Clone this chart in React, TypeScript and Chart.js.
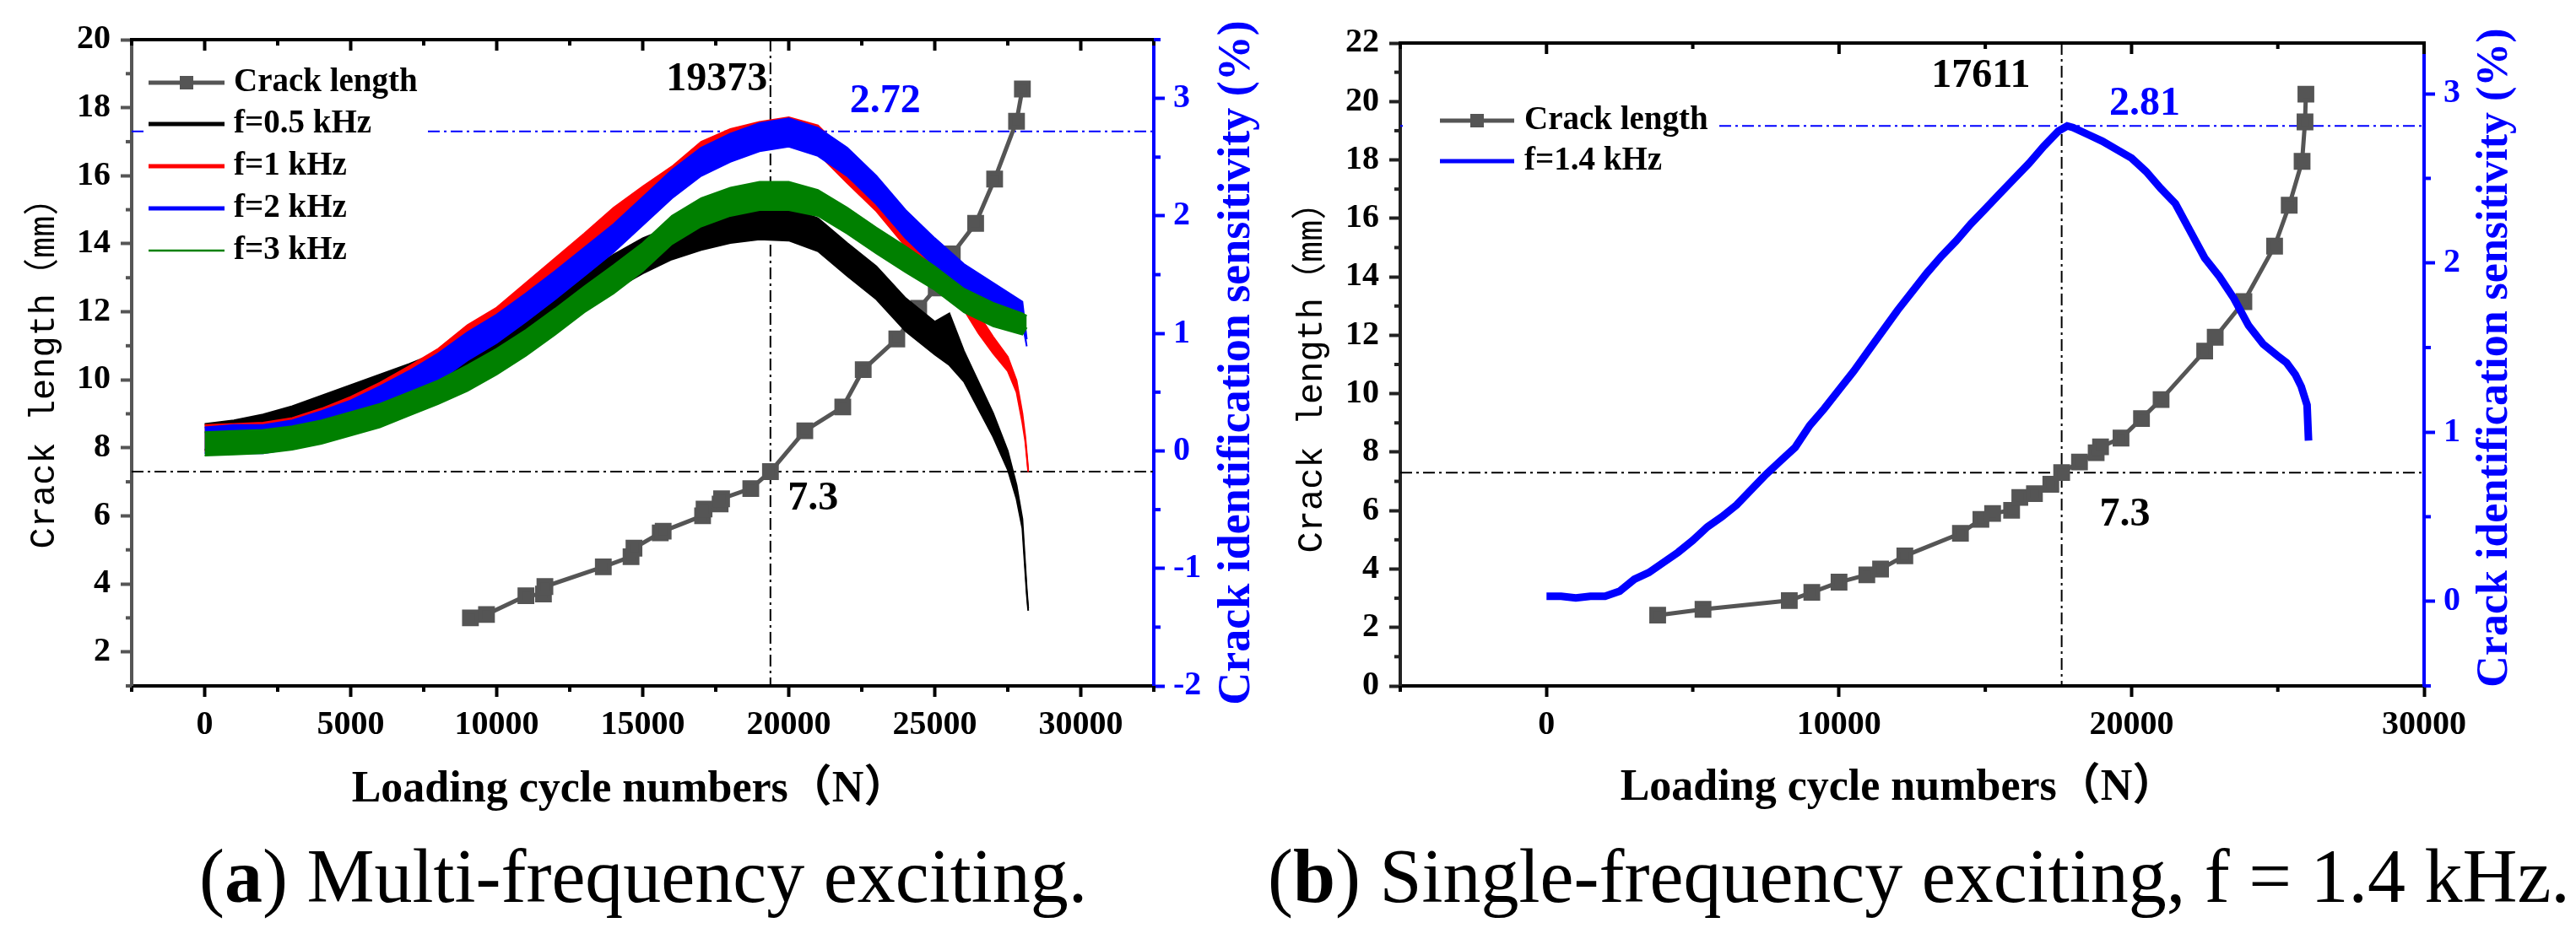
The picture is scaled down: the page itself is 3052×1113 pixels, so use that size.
import { useEffect, useRef } from "react";
import { Chart, registerables } from "chart.js";
import type { ChartConfiguration, Plugin } from "chart.js";

Chart.register(...registerables);

const SERIF = '"Liberation Serif", "Noto Sans CJK SC", serif';
const MONO = '"Liberation Mono", "Noto Sans CJK SC", monospace';
const BLUE = "#0000ff";
const GRAY = "#555555";

// ---------- (a) multi-frequency exciting ----------
const CRACK_A_CYCLES = [9100, 9650, 11000, 11600, 11650, 13650, 14600, 14700, 15600, 15700, 17050, 17100, 17650, 17700, 18700, 19373, 20550, 21850, 22550, 23700, 24450, 25050, 25600, 26400, 27050, 27800, 28000];
const CRACK_A_LENGTH = [3.0, 3.1, 3.65, 3.7, 3.92, 4.5, 4.8, 5.05, 5.5, 5.55, 6.0, 6.2, 6.35, 6.5, 6.8, 7.3, 8.5, 9.2, 10.3, 11.2, 12.1, 12.7, 13.7, 14.6, 15.9, 17.6, 18.55];

// sensitivity traces: centre of the noisy trace and half height of its noise band (%)
const F05_CYCLES = [0, 1000, 2000, 3000, 4000, 5000, 6000, 7000, 8000, 9000, 10000, 11000, 12000, 13000, 14000, 15000, 16000, 17000, 18000, 19000, 20000, 21000, 22000, 23000, 24000, 25000, 25500, 26000, 27000, 27500, 27800, 28000, 28150, 28200];
const F05_MID = [0.12, 0.14, 0.19, 0.25, 0.34, 0.42, 0.51, 0.6, 0.7, 0.8, 0.88, 1.0, 1.2, 1.36, 1.52, 1.66, 1.77, 1.85, 1.91, 1.94, 1.93, 1.84, 1.63, 1.43, 1.16, 0.96, 0.95, 0.72, 0.22, -0.08, -0.35, -0.62, -1.2, -1.35];
const F05_NOISE = [0.11, 0.12, 0.12, 0.13, 0.13, 0.14, 0.14, 0.14, 0.14, 0.14, 0.14, 0.15, 0.15, 0.15, 0.15, 0.15, 0.14, 0.14, 0.14, 0.14, 0.14, 0.14, 0.14, 0.14, 0.14, 0.14, 0.22, 0.13, 0.1, 0.08, 0.06, 0.04, 0.02, 0.01];

const F1_CYCLES = [0, 1000, 2000, 3000, 4000, 5000, 6000, 7000, 8000, 9000, 10000, 11000, 12000, 13000, 14000, 15000, 16000, 17000, 18000, 19000, 20000, 21000, 22000, 23000, 24000, 25000, 26000, 26500, 27000, 27500, 27800, 28000, 28100, 28200];
const F1_MID = [0.11, 0.11, 0.12, 0.16, 0.24, 0.33, 0.46, 0.6, 0.75, 0.94, 1.1, 1.31, 1.52, 1.73, 1.94, 2.12, 2.29, 2.5, 2.62, 2.68, 2.72, 2.65, 2.4, 2.15, 1.85, 1.56, 1.3, 1.08, 0.9, 0.74, 0.55, 0.28, 0.1, -0.17];
const F1_NOISE = [0.11, 0.12, 0.12, 0.12, 0.12, 0.13, 0.12, 0.12, 0.12, 0.13, 0.12, 0.12, 0.12, 0.12, 0.13, 0.13, 0.13, 0.13, 0.12, 0.12, 0.12, 0.12, 0.12, 0.11, 0.11, 0.11, 0.1, 0.08, 0.07, 0.06, 0.05, 0.04, 0.02, 0.01];

const F2_CYCLES = [0, 1000, 2000, 3000, 4000, 5000, 6000, 7000, 8000, 9000, 10000, 11000, 12000, 13000, 14000, 15000, 16000, 17000, 18000, 19000, 20000, 21000, 22000, 23000, 24000, 25000, 26000, 27000, 28000, 28150];
const F2_MID = [0.09, 0.1, 0.1, 0.14, 0.22, 0.31, 0.43, 0.56, 0.71, 0.89, 1.04, 1.22, 1.41, 1.61, 1.81, 2.04, 2.27, 2.46, 2.58, 2.67, 2.71, 2.63, 2.46, 2.22, 1.93, 1.69, 1.48, 1.33, 1.18, 0.92];
const F2_NOISE = [0.11, 0.12, 0.12, 0.12, 0.12, 0.12, 0.12, 0.12, 0.12, 0.12, 0.12, 0.12, 0.12, 0.12, 0.12, 0.12, 0.12, 0.12, 0.12, 0.12, 0.12, 0.12, 0.12, 0.12, 0.12, 0.12, 0.11, 0.1, 0.09, 0.03];

const F3_CYCLES = [0, 1000, 2000, 3000, 4000, 5000, 6000, 7000, 8000, 9000, 10000, 11000, 12000, 13000, 14000, 15000, 16000, 17000, 18000, 19000, 20000, 21000, 22000, 23000, 24000, 25000, 26000, 27000, 28000, 28150];
const F3_MID = [0.06, 0.07, 0.08, 0.11, 0.16, 0.23, 0.3, 0.4, 0.5, 0.62, 0.76, 0.92, 1.1, 1.29, 1.46, 1.65, 1.88, 2.03, 2.12, 2.17, 2.17, 2.11, 1.96, 1.79, 1.63, 1.47, 1.28, 1.16, 1.08, 1.1];
const F3_NOISE = [0.1, 0.1, 0.1, 0.1, 0.1, 0.1, 0.1, 0.1, 0.1, 0.11, 0.11, 0.11, 0.11, 0.11, 0.12, 0.12, 0.12, 0.12, 0.12, 0.12, 0.12, 0.11, 0.11, 0.11, 0.11, 0.1, 0.1, 0.1, 0.09, 0.05];

// ---------- (b) single-frequency exciting ----------
const CRACK_B_CYCLES = [3800, 5350, 8300, 9070, 10000, 10950, 11420, 12250, 14150, 14850, 15250, 15900, 16180, 16680, 17240, 17611, 18220, 18790, 18940, 19640, 20340, 21010, 22500, 22860, 23840, 24890, 25390, 25830, 25930, 25960];
const CRACK_B_LENGTH = [2.42, 2.62, 2.92, 3.2, 3.55, 3.8, 4.0, 4.45, 5.22, 5.7, 5.9, 6.01, 6.45, 6.58, 6.9, 7.3, 7.66, 7.98, 8.18, 8.48, 9.15, 9.8, 11.46, 11.93, 13.15, 15.05, 16.45, 17.95, 19.3, 20.25];

const F14_CYCLES = [0, 500, 1000, 1500, 2000, 2500, 3000, 3500, 4000, 4500, 5000, 5500, 6000, 6500, 7000, 7500, 8000, 8500, 9000, 9500, 10000, 10500, 11000, 11500, 12000, 12500, 13000, 13500, 14000, 14500, 15000, 15500, 16000, 16500, 17000, 17500, 17800, 18000, 18500, 19000, 19500, 20000, 20500, 21000, 21500, 22000, 22500, 23000, 23500, 24000, 24500, 25000, 25300, 25600, 25800, 26000, 26050];
const F14_SENS = [0.03, 0.03, 0.02, 0.03, 0.03, 0.06, 0.13, 0.17, 0.23, 0.29, 0.36, 0.44, 0.5, 0.57, 0.66, 0.75, 0.83, 0.91, 1.04, 1.14, 1.25, 1.36, 1.48, 1.6, 1.72, 1.83, 1.94, 2.04, 2.13, 2.23, 2.32, 2.41, 2.5, 2.59, 2.69, 2.78, 2.81, 2.8, 2.76, 2.72, 2.67, 2.62, 2.54, 2.44, 2.35, 2.19, 2.03, 1.92, 1.79, 1.63, 1.52, 1.45, 1.41, 1.34, 1.27, 1.16, 0.95];

// ---------- axes ----------
const A_X_TICKS = [0, 5000, 10000, 15000, 20000, 25000, 30000];
const A_X_MINOR = [-2500, 2500, 7500, 12500, 17500, 22500, 27500, 32500];
const A_Y_TICKS = [2, 4, 6, 8, 10, 12, 14, 16, 18, 20];
const A_Y_MINOR = [1, 3, 5, 7, 9, 11, 13, 15, 17, 19];
const A_Y2_TICKS = [-2, -1, 0, 1, 2, 3];
const A_Y2_MINOR = [-1.5, -0.5, 0.5, 1.5, 2.5, 3.5];

const B_X_TICKS = [0, 10000, 20000, 30000];
const B_X_MINOR = [-5000, 5000, 15000, 25000];
const B_Y_TICKS = [0, 2, 4, 6, 8, 10, 12, 14, 16, 18, 20, 22];
const B_Y_MINOR = [1, 3, 5, 7, 9, 11, 13, 15, 17, 19, 21];
const B_Y2_TICKS = [0, 1, 2, 3];
const B_Y2_MINOR = [-0.5, 0.5, 1.5, 2.5];

const A_PEAK_CYCLE = 19373;
const A_PEAK_SENS = 2.72;
const B_PEAK_CYCLE = 17611;
const B_PEAK_SENS = 2.81;
const CRACK_MARK = 7.3;

const pts = (xs: number[], ys: number[]) => xs.map((x, i) => ({ x, y: ys[i] }));
const edge = (xs: number[], mid: number[], noise: number[], side: number) =>
  xs.map((x, i) => ({ x, y: mid[i] + side * noise[i] }));

function crackSet(xs: number[], ys: number[]) {
  return {
    label: "Crack length",
    data: pts(xs, ys),
    yAxisID: "y",
    borderColor: GRAY,
    backgroundColor: GRAY,
    borderWidth: 5,
    pointStyle: "rect" as const,
    pointRadius: 10.5,
    tension: 0,
    order: 10,
  };
}

function noisyTrace(label: string, color: string, xs: number[], mid: number[], noise: number[], order: number) {
  const base = { yAxisID: "y2", borderColor: color, backgroundColor: color, borderWidth: 2, pointRadius: 0, order };
  return [
    { ...base, label: label + " low", data: edge(xs, mid, noise, -1), fill: false },
    { ...base, label, data: edge(xs, mid, noise, 1), fill: "-1" },
  ];
}

function axis(position: string, min: number, max: number, ticks: number[], lineColor: string, labelColor: string, size: number, pad: number) {
  return {
    type: "linear" as const,
    position,
    min,
    max,
    afterBuildTicks: (s: any) => {
      s.ticks = ticks.map((value) => ({ value }));
    },
    afterFit: (s: any) => {
      if (position === "bottom") s.height = size;
      else s.width = size;
    },
    ticks: {
      autoSkip: false,
      maxRotation: 0,
      padding: pad,
      color: labelColor,
      font: { family: SERIF, weight: "bold" as const, size: 40 },
      callback: (v: any) => String(v),
    },
    grid: { drawOnChartArea: false, drawTicks: true, tickLength: 13, tickWidth: 4, tickColor: lineColor },
    border: { display: true, color: lineColor, width: 4 },
  };
}

interface LegendItem {
  label: string;
  color: string;
  width: number;
  marker?: boolean;
}

interface Overlay {
  vLine: number;
  hLines: { axis: string; value: number; color: string }[];
  notes: { text: string; x: number; y: number; axis: string; color: string; align: CanvasTextAlign }[];
  xMajor: number[];
  xMinor: number[];
  yMinor: number[];
  y2Minor: number[];
  leftColor: string;
  legendBox: [number, number, number, number];
  legendLine: [number, number, number];
  legendRows: number[];
  legendItems: LegendItem[];
  xTitle: [number, number];
  yTitle: [number, number];
  y2Title: [number, number, number];
}

function overlay(o: Overlay): Plugin<"line"> {
  return {
    id: "overlay",
    beforeDatasetsDraw(chart) {
      const { ctx, chartArea: a, scales } = chart;
      ctx.save();
      ctx.beginPath();
      ctx.rect(a.left, a.top, a.right - a.left, a.bottom - a.top);
      ctx.clip();
      ctx.lineWidth = 2;
      ctx.setLineDash([14, 5, 3, 5]);
      const vx = scales.x.getPixelForValue(o.vLine);
      ctx.strokeStyle = "#000";
      ctx.beginPath();
      ctx.moveTo(vx, a.top);
      ctx.lineTo(vx, a.bottom);
      ctx.stroke();
      for (const h of o.hLines) {
        const py = scales[h.axis].getPixelForValue(h.value);
        ctx.strokeStyle = h.color;
        ctx.beginPath();
        ctx.moveTo(a.left, py);
        ctx.lineTo(a.right, py);
        ctx.stroke();
      }
      ctx.restore();
    },
    afterDatasetsDraw(chart) {
      const { ctx, chartArea: a, scales } = chart;
      ctx.save();
      // legend
      const [bx, by, bw, bh] = o.legendBox;
      ctx.fillStyle = "#fff";
      ctx.fillRect(bx, by, bw, bh);
      const [x0, x1, tx] = o.legendLine;
      o.legendItems.forEach((it, i) => {
        const y = o.legendRows[i];
        ctx.strokeStyle = it.color;
        ctx.lineWidth = it.width;
        ctx.beginPath();
        ctx.moveTo(x0, y);
        ctx.lineTo(x1, y);
        ctx.stroke();
        if (it.marker) {
          ctx.fillStyle = it.color;
          ctx.fillRect((x0 + x1) / 2 - 8, y - 8, 16, 16);
        }
        ctx.fillStyle = "#000";
        ctx.font = `bold 39px ${SERIF}`;
        ctx.textAlign = "left";
        ctx.textBaseline = "middle";
        ctx.fillText(it.label, tx, y);
      });
      // annotations
      ctx.font = `bold 48px ${SERIF}`;
      ctx.textBaseline = "middle";
      for (const n of o.notes) {
        ctx.fillStyle = n.color;
        ctx.textAlign = n.align;
        ctx.fillText(n.text, scales.x.getPixelForValue(n.x), scales[n.axis].getPixelForValue(n.y));
      }
      // top frame with inward ticks
      ctx.strokeStyle = "#000";
      ctx.lineWidth = 4;
      ctx.beginPath();
      ctx.moveTo(a.left - 2, a.top);
      ctx.lineTo(a.right + 2, a.top);
      ctx.stroke();
      const tick = (x: number, y: number, dx: number, dy: number) => {
        ctx.beginPath();
        ctx.moveTo(x, y);
        ctx.lineTo(x + dx, y + dy);
        ctx.stroke();
      };
      for (const v of o.xMajor) tick(scales.x.getPixelForValue(v), a.top, 0, 13);
      for (const v of o.xMinor) {
        const px = scales.x.getPixelForValue(v);
        tick(px, a.top, 0, 7);
        tick(px, a.bottom, 0, 7);
      }
      ctx.strokeStyle = o.leftColor;
      for (const v of o.yMinor) tick(a.left, scales.y.getPixelForValue(v), -7, 0);
      ctx.strokeStyle = BLUE;
      for (const v of o.y2Minor) tick(a.right, scales.y2.getPixelForValue(v), 8, 0);
      ctx.restore();
    },
    afterDraw(chart) {
      const { ctx } = chart;
      ctx.save();
      ctx.textAlign = "center";
      ctx.textBaseline = "middle";
      ctx.fillStyle = "#000";
      ctx.font = `bold 52px ${SERIF}`;
      ctx.fillText("Loading cycle numbers（N）", o.xTitle[0], o.xTitle[1]);
      ctx.save();
      ctx.translate(o.yTitle[0], o.yTitle[1]);
      ctx.rotate(-Math.PI / 2);
      ctx.font = `42px ${MONO}`;
      ctx.fillText("Crack length（mm）", 0, 0);
      ctx.restore();
      ctx.translate(o.y2Title[0], o.y2Title[1]);
      ctx.rotate(-Math.PI / 2);
      ctx.fillStyle = BLUE;
      ctx.font = `bold ${o.y2Title[2]}px ${SERIF}`;
      ctx.fillText("Crack identification sensitivity (%)", 0, 0);
      ctx.restore();
    },
  };
}

function baseOptions(top: number) {
  return {
    animation: false as const,
    responsive: true,
    maintainAspectRatio: false,
    events: [],
    layout: { padding: { top, left: 0, right: 0, bottom: 0 } },
    plugins: { legend: { display: false }, tooltip: { enabled: false } },
  };
}

const configA = (): ChartConfiguration<"line"> => ({
  type: "line",
  data: {
    datasets: [
      crackSet(CRACK_A_CYCLES, CRACK_A_LENGTH),
      ...noisyTrace("f=0.5 kHz", "#000000", F05_CYCLES, F05_MID, F05_NOISE, 4),
      ...noisyTrace("f=1 kHz", "#ff0000", F1_CYCLES, F1_MID, F1_NOISE, 3),
      ...noisyTrace("f=2 kHz", BLUE, F2_CYCLES, F2_MID, F2_NOISE, 2),
      ...noisyTrace("f=3 kHz", "#008000", F3_CYCLES, F3_MID, F3_NOISE, 1),
    ] as any,
  },
  options: {
    ...baseOptions(47),
    scales: {
      x: axis("bottom", -2500, 32500, A_X_TICKS, "#000", "#000", 167, 10),
      y: axis("left", 1, 20, A_Y_TICKS, GRAY, "#000", 156, 12),
      y2: axis("right", -2, 3.5, A_Y2_TICKS, BLUE, BLUE, 159, 10),
    } as any,
  },
  plugins: [
    overlay({
      vLine: A_PEAK_CYCLE,
      hLines: [
        { axis: "y", value: CRACK_MARK, color: "#000" },
        { axis: "y2", value: A_PEAK_SENS, color: BLUE },
      ],
      notes: [
        { text: String(A_PEAK_CYCLE), x: A_PEAK_CYCLE - 100, y: 18.83, axis: "y", color: "#000", align: "right" },
        { text: String(A_PEAK_SENS), x: 23300, y: 2.975, axis: "y2", color: BLUE, align: "center" },
        { text: String(CRACK_MARK), x: 20830, y: 6.48, axis: "y", color: "#000", align: "center" },
      ],
      xMajor: A_X_TICKS,
      xMinor: A_X_MINOR,
      yMinor: A_Y_MINOR,
      y2Minor: A_Y2_MINOR,
      leftColor: GRAY,
      legendBox: [172, 70, 332, 252],
      legendLine: [176, 266, 277],
      legendRows: [98, 147, 197, 247, 297],
      legendItems: [
        { label: "Crack length", color: GRAY, width: 5, marker: true },
        { label: "f=0.5 kHz", color: "#000000", width: 5 },
        { label: "f=1 kHz", color: "#ff0000", width: 5 },
        { label: "f=2 kHz", color: BLUE, width: 5 },
        { label: "f=3 kHz", color: "#008000", width: 2.5 },
      ],
      xTitle: [746, 937],
      yTitle: [53, 432],
      y2Title: [1466, 430, 54],
    }),
  ],
});

const configB = (): ChartConfiguration<"line"> => ({
  type: "line",
  data: {
    datasets: [
      crackSet(CRACK_B_CYCLES, CRACK_B_LENGTH),
      {
        label: "f=1.4 kHz",
        data: pts(F14_CYCLES, F14_SENS),
        yAxisID: "y2",
        borderColor: BLUE,
        borderWidth: 9,
        pointRadius: 0,
        order: 1,
      },
    ] as any,
  },
  options: {
    ...baseOptions(51),
    scales: {
      x: axis("bottom", -5000, 30000, B_X_TICKS, "#000", "#000", 167, 10),
      y: axis("left", 0, 22, B_Y_TICKS, "#222", "#000", 133, 12),
      y2: axis("right", -0.5, 3.3, B_Y2_TICKS, BLUE, BLUE, 180, 10),
    } as any,
  },
  plugins: [
    overlay({
      vLine: B_PEAK_CYCLE,
      hLines: [
        { axis: "y", value: CRACK_MARK, color: "#000" },
        { axis: "y2", value: B_PEAK_SENS, color: BLUE },
      ],
      notes: [
        { text: String(B_PEAK_CYCLE), x: 14850, y: 20.85, axis: "y", color: "#000", align: "center" },
        { text: String(B_PEAK_SENS), x: 20450, y: 2.94, axis: "y2", color: BLUE, align: "center" },
        { text: String(CRACK_MARK), x: 19770, y: 5.83, axis: "y", color: "#000", align: "center" },
      ],
      xMajor: B_X_TICKS,
      xMinor: B_X_MINOR,
      yMinor: B_Y_MINOR,
      y2Minor: B_Y2_MINOR,
      leftColor: "#222",
      legendBox: [136, 118, 370, 100],
      legendLine: [180, 268, 280],
      legendRows: [143, 191],
      legendItems: [
        { label: "Crack length", color: GRAY, width: 5, marker: true },
        { label: "f=1.4 kHz", color: BLUE, width: 5 },
      ],
      xTitle: [723, 935],
      yTitle: [29, 437],
      y2Title: [1431, 424, 52],
    }),
  ],
});

function Panel({ config, left }: { config: () => ChartConfiguration<"line">; left: number }) {
  const canvasRef = useRef<HTMLCanvasElement | null>(null);

  useEffect(() => {
    if (!canvasRef.current) return;
    const chart = new Chart(canvasRef.current, config());
    return () => chart.destroy();
  }, [config]);

  return (
    <div style={{ position: "absolute", left, top: 0, width: 1526, height: 980 }}>
      <canvas ref={canvasRef} />
    </div>
  );
}

const captionStyle: React.CSSProperties = {
  position: "absolute",
  top: 994,
  font: `90px ${SERIF}`,
  lineHeight: "90px",
  whiteSpace: "nowrap",
  color: "#000",
};

export default function App() {
  return (
    <div style={{ position: "fixed", left: 0, top: 0, width: 3052, height: 1113, background: "#fff", overflow: "hidden" }}>
      <Panel config={configA} left={0} />
      <Panel config={configB} left={1526} />
      <div style={{ ...captionStyle, left: 236 }}>
        (<b>a</b>) Multi-frequency exciting.
      </div>
      <div style={{ ...captionStyle, left: 1502 }}>
        (<b>b</b>) Single-frequency exciting, f = 1.4 kHz.
      </div>
    </div>
  );
}
